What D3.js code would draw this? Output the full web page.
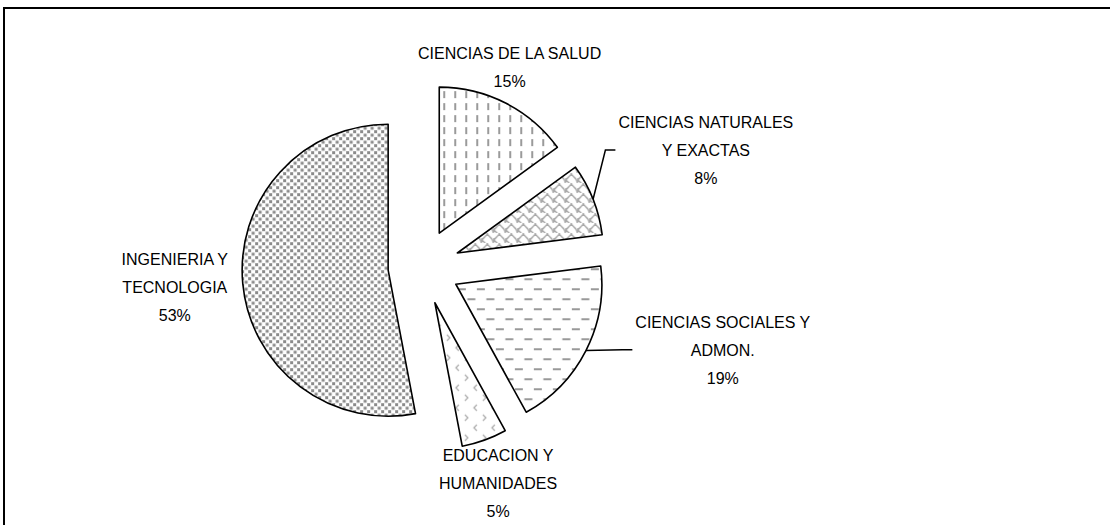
<!DOCTYPE html>
<html>
<head>
<meta charset="utf-8">
<script src="https://cdn.jsdelivr.net/npm/d3@7"></script>
<style>
  body { margin: 0; background: #fff; }
  text { font-family: "Liberation Sans", Arial, sans-serif; font-size: 16px; fill: #000; }
</style>
</head>
<body>
<svg id="grafica" width="1110" height="525"></svg>
<script>
// datos
const categorias = ["CIENCIAS DE LA SALUD", "CIENCIAS NATURALES Y EXACTAS", "CIENCIAS SOCIALES Y ADMON.", "EDUCACION Y HUMANIDADES", "INGENIERIA Y TECNOLOGIA"];
const porcentajes = [15, 8, 19, 5, 53];
const lineasEtiqueta = [
  ["CIENCIAS DE LA SALUD"],
  ["CIENCIAS NATURALES", "Y EXACTAS"],
  ["CIENCIAS SOCIALES Y", "ADMON."],
  ["EDUCACION Y", "HUMANIDADES"],
  ["INGENIERIA Y", "TECNOLOGIA"]
];

// disposicion
const cx = 422, cy = 267, radio = 146;
const separacion = [38, 38, 38, 38, 34];
const distEtiqueta = [218, 307, 312, 229, 248];
const anguloEtiqueta = [23.7, 67.6, 105.4, 160.6, 265.4];
const conGuia = [false, true, true, false, false];
const patrones = ["p-salud", "p-naturales", "p-sociales", "p-educacion", "p-ingenieria"];

const svg = d3.select("#grafica");

// marco
svg.append("path").attr("d", "M4,525 L4,8 L1110,8")
  .attr("fill", "none").attr("stroke", "#000").attr("stroke-width", 2);

// patrones de relleno
const defs = svg.append("defs");
const gris = "#8a8a8a";

let p = defs.append("pattern").attr("id", "p-salud").attr("patternUnits", "userSpaceOnUse")
  .attr("width", 11).attr("height", 12);
p.append("rect").attr("width", 11).attr("height", 12).attr("fill", "#fff");
p.append("rect").attr("x", 4).attr("y", 2).attr("width", 2).attr("height", 7).attr("fill", "#9a9a9a");

p = defs.append("pattern").attr("id", "p-naturales").attr("patternUnits", "userSpaceOnUse")
  .attr("width", 12).attr("height", 10);
p.append("rect").attr("width", 12).attr("height", 10).attr("fill", "#fff");
p.append("path").attr("d", "M0,10 C0,4 6,4 6,0 M6,0 C6,4 12,4 12,10 M-6,5 C-6,1 0,1 0,-5 M0,5 C0,9 6,9 6,15")
  .attr("fill", "none").attr("stroke", "#aaa").attr("stroke-width", 1.3);

p = defs.append("pattern").attr("id", "p-sociales").attr("patternUnits", "userSpaceOnUse")
  .attr("width", 19).attr("height", 20);
p.append("rect").attr("width", 19).attr("height", 20).attr("fill", "#fff");
p.append("rect").attr("x", 2).attr("y", 4).attr("width", 8).attr("height", 2).attr("fill", "#999");
p.append("rect").attr("x", 11.5).attr("y", 14).attr("width", 8).attr("height", 2).attr("fill", "#999");
p.append("rect").attr("x", -7.5).attr("y", 14).attr("width", 8).attr("height", 2).attr("fill", "#999");

p = defs.append("pattern").attr("id", "p-educacion").attr("patternUnits", "userSpaceOnUse")
  .attr("width", 18).attr("height", 20);
p.append("rect").attr("width", 18).attr("height", 20).attr("fill", "#fff");
p.append("path").attr("d", "M6,2 L3,5 L6,8 M12,12 L15,15 L12,18")
  .attr("fill", "none").attr("stroke", "#aaa").attr("stroke-width", 1.2);

p = defs.append("pattern").attr("id", "p-ingenieria").attr("patternUnits", "userSpaceOnUse")
  .attr("width", 7).attr("height", 7);
p.append("rect").attr("width", 7).attr("height", 7).attr("fill", "#fff");
p.append("rect").attr("x", 0).attr("y", 0).attr("width", 3).attr("height", 3).attr("fill", gris);
p.append("rect").attr("x", 3.5).attr("y", 3.5).attr("width", 3).attr("height", 3).attr("fill", gris);

// pastel
const pie = d3.pie().sort(null).value(d => d)(porcentajes);
const arco = d3.arc().innerRadius(0).outerRadius(radio);

const g = svg.append("g").attr("transform", `translate(${cx},${cy})`);

g.selectAll("path.rebanada").data(pie).enter().append("path")
  .attr("class", "rebanada")
  .attr("transform", (d, i) => {
    const a = (d.startAngle + d.endAngle) / 2;
    return `translate(${separacion[i] * Math.sin(a)},${-separacion[i] * Math.cos(a)})`;
  })
  .attr("d", arco)
  .attr("fill", (d, i) => `url(#${patrones[i]})`)
  .attr("stroke", "#000").attr("stroke-width", 1.6).attr("stroke-linejoin", "round");

// etiquetas
const altoLinea = 28;
pie.forEach((d, i) => {
  const a = anguloEtiqueta[i] * Math.PI / 180;
  const x = distEtiqueta[i] * Math.sin(a);
  const y = -distEtiqueta[i] * Math.cos(a);
  const lineas = lineasEtiqueta[i].concat([porcentajes[i] + "%"]);
  const y0 = y - (lineas.length - 1) * altoLinea / 2;
  const t = g.append("g");
  lineas.forEach((l, k) => {
    t.append("text").attr("x", x).attr("y", y0 + k * altoLinea).attr("dy", "0.36em")
      .attr("text-anchor", "middle").text(l);
  });

  if (conGuia[i]) {
    let ancho = 0;
    t.selectAll("text").each(function () { ancho = Math.max(ancho, this.getComputedTextLength()); });
    const am = (d.startAngle + d.endAngle) / 2;
    const r = radio + separacion[i];
    const x1 = r * Math.sin(am), y1 = -r * Math.cos(am);
    const xf = x - ancho / 2 - 3, yf = y;
    g.append("path")
      .attr("d", `M${x1},${y1} L${xf - 10},${yf} L${xf},${yf}`)
      .attr("fill", "none").attr("stroke", "#000").attr("stroke-width", 1.5);
  }
});
</script>
</body>
</html>
